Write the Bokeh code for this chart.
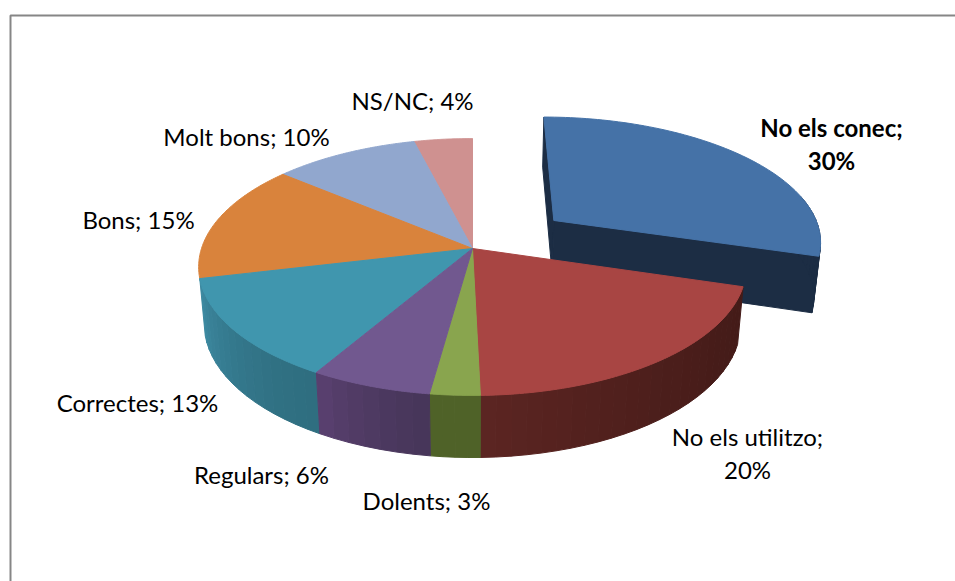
import math
from bokeh.plotting import figure
from bokeh.embed import file_html
from bokeh.resources import INLINE
from bokeh.models import Range1d
from bokeh.core.properties import value

# --- data ---
categories = ["No els conec", "No els utilitzo", "Dolents", "Regulars", "Correctes", "Bons", "Molt bons", "NS/NC"]
# slice sizes as measured on the picture (the printed labels are rounded)
percents = [30, 20.1, 2.6, 6.3, 13, 15, 10, 4]
top_colors = ["#4572a7", "#a84543", "#89a54e", "#71588f", "#4096ae", "#d9833c", "#91a7ce", "#cf9190"]
wall_start = ["#1c2d44", "#441b18", "#4f6228", "#47365a", "#2f6e80", "#ac6428", "#6a80a8", "#a06a69"]
wall_end = ["#1c2d44", "#5c2522", "#4f6228", "#5a4070", "#3d8aa2", "#ac6428", "#6a80a8", "#a06a69"]
label_lines = [["No els conec;", "30%"], ["No els utilitzo;", "20%"], ["Dolents; 3%"], ["Regulars; 6%"],
               ["Correctes; 13%"], ["Bons; 15%"], ["Molt bons; 10%"], ["NS/NC; 4%"]]
label_xy = [(831, 127), (747, 436), (426, 500), (261, 474), (137, 402), (138, 219), (246, 136), (412, 100)]
bold = [True, False, False, False, False, False, False, False]

# --- page geometry, in window pixels ---
W, H = 955, 581
APEX = (472, 248)
K, M, A, B, N = 271.0, 125.8, 0.144, 0.02, 57.3
EXPLODE = (0.31, 0.23)


def project(X, Y, Z=0.0):
    d = 1 + A * Y + B * Z
    return APEX[0] + K * X / d, APEX[1] - (M * Y - N * Z) / d


def px(sx, sy):
    return sx, H - sy


def mix(c1, c2, t):
    a = [int(c1[i:i + 2], 16) for i in (1, 3, 5)]
    b = [int(c2[i:i + 2], 16) for i in (1, 3, 5)]
    return "#%02x%02x%02x" % tuple(round(a[i] + (b[i] - a[i]) * t) for i in range(3))


p = figure(width=W, height=H, output_backend="svg", toolbar_location=None,
           x_range=Range1d(0, W), y_range=Range1d(0, H), min_border=0,
           outline_line_color=None, background_fill_color="white", border_fill_color="white")
p.axis.visible = False
p.grid.visible = False


def quad(points, color):
    xy = [px(*project(*pt)) for pt in points]
    p.patch([q[0] for q in xy], [q[1] for q in xy], fill_color=color, line_color=color, line_width=1)


total = sum(percents)
bounds = [0.0]
for v in percents:
    bounds.append(bounds[-1] + v / total * 2 * math.pi)


def rim(theta, ox, oy, Z=0.0):
    return (ox + math.sin(theta), oy + math.cos(theta), Z)


def draw_slice(i, ox, oy):
    t0, t1 = bounds[i], bounds[i + 1]
    n = max(4, int((t1 - t0) / 0.05))
    ts = [t0 + (t1 - t0) * j / n for j in range(n + 1)]
    fine = [t0 + (t1 - t0) * j / 80 for j in range(81)]
    if i == 0:
        # cut faces of the pulled-out slice
        quad([(ox, oy, 0), rim(t0, ox, oy), rim(t0, ox, oy, 1), (ox, oy, 1)], wall_start[i])
        quad([(ox, oy, 0), rim(t1, ox, oy), rim(t1, ox, oy, 1), (ox, oy, 1)], wall_start[i])
    # outer wall: the three back slices show none
    for j in range(n):
        a, b = ts[j], ts[j + 1]
        if i >= 5 or math.cos((a + b) / 2) > 0.2:
            continue
        quad([rim(a, ox, oy), rim(b, ox, oy), rim(b, ox, oy, 1), rim(a, ox, oy, 1)],
             mix(wall_start[i], wall_end[i], ((j + 0.5) / n) ** 1.5))
    # top face
    quad([(ox, oy, 0)] + [rim(t, ox, oy) for t in fine], top_colors[i])


draw_slice(0, *EXPLODE)
for i in [7, 6, 5, 1, 4, 2, 3]:
    draw_slice(i, 0.0, 0.0)

# frame: only the top and left edges fall inside the window
fx0, fy0 = px(10, 15)
p.line([fx0, fx0, W], [0, fy0, fy0], line_color="#868686", line_width=2)

# labels
for i, lines in enumerate(label_lines):
    lx, ly = label_xy[i]
    for j, s in enumerate(lines):
        x, y = px(lx, ly + j * 33)
        p.text([x], [y], text=[s], text_font=value("Lato"), text_font_size="24px",
               text_align="center", text_baseline="middle", text_color="#000000",
               text_font_style="bold" if bold[i] else "normal")

open("out.html", "w").write(file_html(p, INLINE))
